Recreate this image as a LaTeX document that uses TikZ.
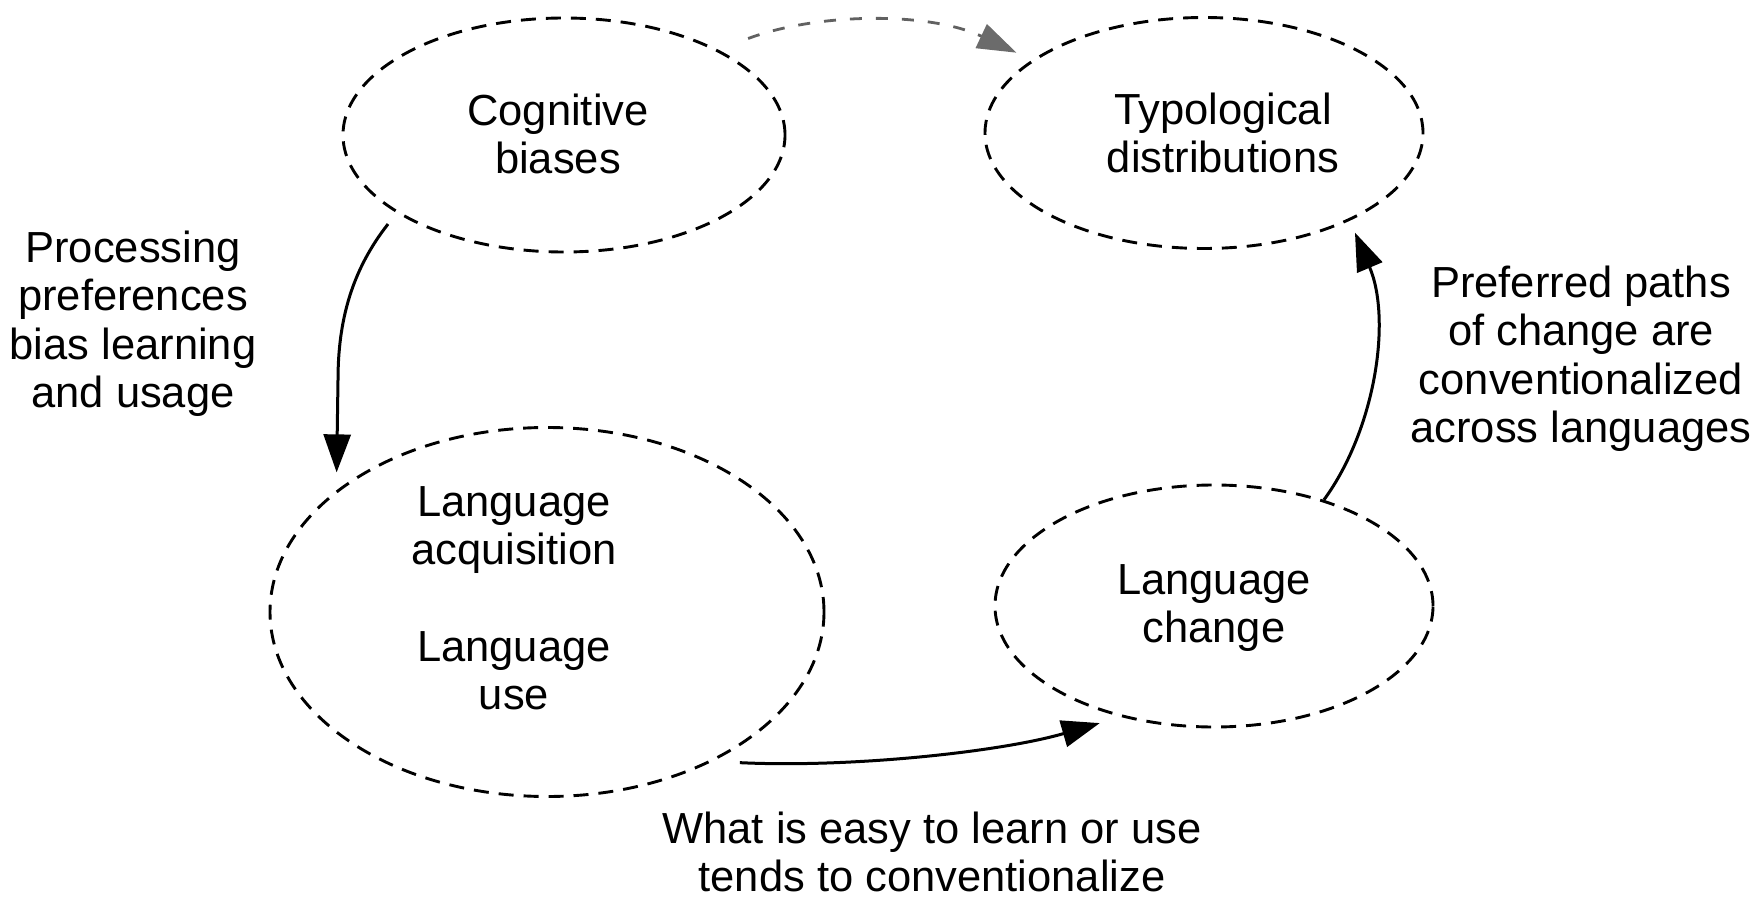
\documentclass[tikz,border=0pt]{standalone}
\usepackage{fontspec}
\setmainfont{Liberation Sans}
\usetikzlibrary{shapes.geometric,arrows.meta}
\tikzset{
  bub/.style={ellipse, draw, line width=2.9pt, dash pattern=on 15pt off 10pt, inner sep=0pt},
  txt/.style={align=center, font=\fontsize{43.5}{48.5}\selectfont, inner sep=0pt},
  arr/.style={line width=3pt, -{Triangle[length=38pt,width=27pt]}},
  garr/.style={line width=2.8pt, draw=black!62, dash pattern=on 12pt off 14pt,
    -{Triangle[length=39pt,width=26pt,fill=black!58,color=black!58]}}
}
\begin{document}
\begin{tikzpicture}[x=1pt,y=-1pt]
\useasboundingbox (0,0) rectangle (1758,901);
% ellipses
\node[bub, minimum width=442pt, minimum height=234pt,
  label={[txt, xshift=-6pt, yshift=1pt]center:{Cognitive\\biases}}] (cog) at (564,135) {};
\node[bub, minimum width=438pt, minimum height=231pt,
  label={[txt, xshift=19pt]center:{Typological\\distributions}}] (typ) at (1204,133) {};
\node[bub, minimum width=554pt, minimum height=369pt,
  label={[txt, xshift=-33pt, yshift=14pt]center:{Language\\acquisition\\[48pt]Language\\use}}] (acq) at (547,612) {};
\node[bub, minimum width=438pt, minimum height=242pt,
  label={[txt, yshift=-2pt]center:{Language\\change}}] (chg) at (1214,606) {};
% free labels
\node[txt] (proc) at (133,324) {Processing\\preferences\\bias learning\\and usage};
\node[txt] (pref) at (1581,359) {Preferred paths\\of change are\\conventionalized\\across languages};
\node[txt] (easy) at (932,852) {What is easy to learn or use\\tends to conventionalize};
% connectors
\draw[arr, shorten <=14pt, shorten >=18pt] (cog.205) .. controls (352,270) and (338,320) .. (338,380) -- (acq.150);
\draw[arr, shorten <=27pt, shorten >=22pt] (acq.318) .. controls (850,768) and (1000,752) .. (chg.230);
\draw[arr, shorten >=13pt] (chg.44) .. controls (1375,430) and (1392,320) .. (typ.329);
\draw[garr, shorten <=32pt, shorten >=17pt] (cog.29) .. controls (820,12) and (930,12) .. (typ.157);
\end{tikzpicture}
\end{document}
